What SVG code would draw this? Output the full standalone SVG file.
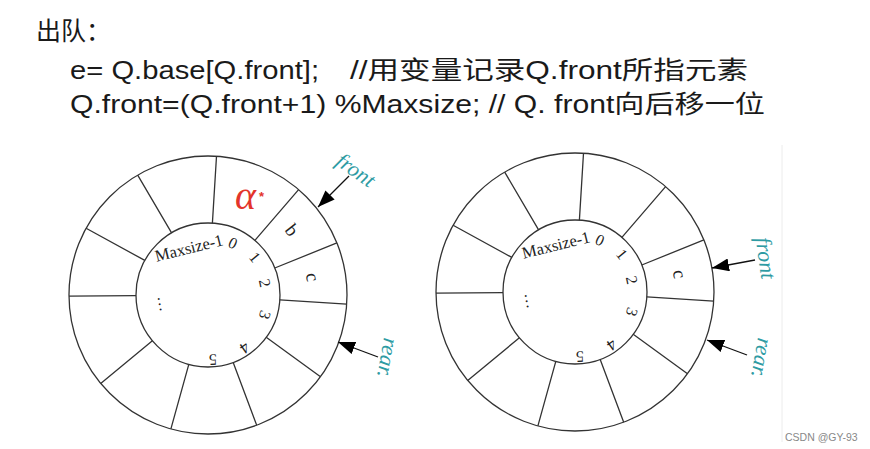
<svg xmlns="http://www.w3.org/2000/svg" xmlns:xlink="http://www.w3.org/1999/xlink" width="870" height="449" viewBox="0 0 870 449">
<style>
.hd{font-family:"Liberation Sans","Noto Sans CJK SC",sans-serif;font-size:25px;fill:#1a1a1a}
.rl{fill:none;stroke:#333;stroke-width:1.3}
.num{font-family:"Liberation Serif",serif;font-size:16px;fill:#222;text-anchor:middle;dominant-baseline:central}
.cell{font-family:"Liberation Serif",serif;font-size:19px;fill:#222;text-anchor:middle;dominant-baseline:central}
.lab{font-family:"Liberation Serif",serif;font-style:italic;font-size:22px;fill:#2e9ba3;text-anchor:middle;dominant-baseline:central}
.red{font-family:"Liberation Serif",serif;fill:#e3342b}
.arr{stroke:#111;stroke-width:1.3;fill:none}
</style>
<defs>
<marker id="ah" markerUnits="userSpaceOnUse" markerWidth="17" markerHeight="13" refX="17" refY="6.5" orient="auto">
<path d="M0,0 L17,6.5 L0,13 z" fill="#000"/>
</marker>
<g id="ring">
<circle cx="0" cy="0" r="139" class="rl"/>
<circle cx="0" cy="0" r="72" class="rl"/>
<path class="rl" d="M4.4,-71.9 L8.5,-138.7 M46.9,-54.6 L90.6,-105.4 M66.8,-27 L128.9,-52.1 M71.8,4.8 L138.7,9.2 M58.2,42.3 L112.5,81.7 M25.2,67.4 L48.7,130.2 M-19.2,69.4 L-37.1,133.9 M-55.6,45.8 L-107.3,88.4 M-72,0.6 L-139,1.2 M-63.2,-34.6 L-121.9,-66.7 M-36.4,-62.1 L-70.3,-119.9"/>
<text class="num" transform="translate(-19,-47) rotate(-14)" style="font-size:16.5px">Maxsize-1</text>
<text class="num" transform="translate(25,-52) rotate(25)">0</text>
<text class="num" transform="translate(47,-38) rotate(50)">1</text>
<text class="num" transform="translate(57,-12) rotate(78)">2</text>
<text class="num" transform="translate(57,20) rotate(108)">3</text>
<text class="num" transform="translate(37,53) rotate(145)">4</text>
<text class="num" transform="translate(5,65) rotate(178)">5</text>
<text class="num" transform="translate(-53,10) rotate(-100)">…</text>
<text class="cell" transform="translate(105,-18) rotate(80)">c</text>
</g>
</defs>
<rect width="870" height="449" fill="#fff"/>
<g id="header">
<text class="hd" x="36" y="40">出队：</text>
<text class="hd" x="70" y="79" textLength="249" lengthAdjust="spacingAndGlyphs">e= Q.base[Q.front];</text>
<text class="hd" x="350" y="79" textLength="398" lengthAdjust="spacingAndGlyphs">//用变量记录Q.front所指元素</text>
<text class="hd" x="70" y="113" textLength="695" lengthAdjust="spacingAndGlyphs">Q.front=(Q.front+1) %Maxsize; // Q. front向后移一位</text>
</g>
<g id="queue-before" transform="translate(208,295)">
<use xlink:href="#ring" href="#ring"/>
<text class="cell" transform="translate(84,-65) rotate(52)">b</text>
<text class="red" x="27" y="-86" style="font-style:italic;font-size:40px">α</text>
<text class="red" x="51" y="-94" style="font-family:'Liberation Sans',sans-serif;font-size:13px;font-weight:bold">*</text>
<text class="lab" transform="translate(148,-125) rotate(35)">front</text>
<text class="lab" transform="translate(180,63) rotate(100)">rear.</text>
</g>
<g id="queue-after" transform="translate(575,292)">
<use xlink:href="#ring" href="#ring"/>
<text class="lab" transform="translate(191,-34) rotate(82)">front</text>
<text class="lab" transform="translate(187,66) rotate(100)">rear.</text>
</g>
<g id="connectors">
<line class="arr" x1="349" y1="176" x2="318" y2="207" marker-end="url(#ah)"/>
<line class="arr" x1="378" y1="357" x2="338" y2="342" marker-end="url(#ah)"/>
<line class="arr" x1="755" y1="260" x2="712" y2="268" marker-end="url(#ah)"/>
<line class="arr" x1="747" y1="355" x2="707" y2="340" marker-end="url(#ah)"/>
</g>
<line x1="782" y1="145" x2="782" y2="442" stroke="#ececec" stroke-width="1"/>
<text x="785" y="441" style="font-family:'Liberation Sans',sans-serif;font-size:10.5px;fill:#888">CSDN @GY-93</text>
</svg>
